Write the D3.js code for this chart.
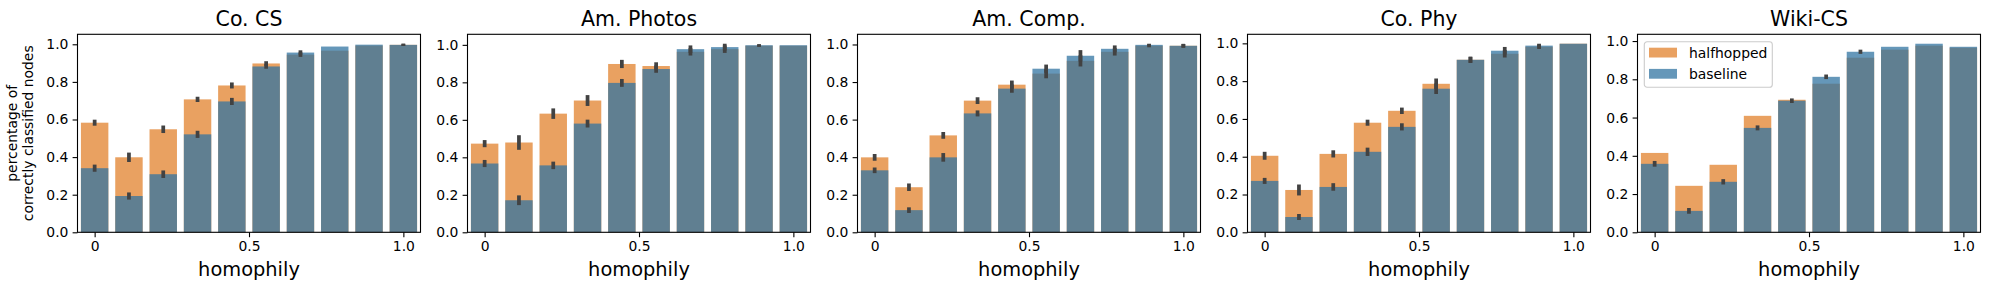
<!DOCTYPE html>
<html lang="en">
<head>
<meta charset="UTF-8">
<script src="https://cdn.jsdelivr.net/npm/d3@7"></script>
<title>homophily</title>
<style>
    body { margin: 0; background: #fff; }
    text { font-family: "DejaVu Sans", sans-serif; fill: #000; }
    .domain { stroke: #000; stroke-width: 1.1px; }
    .tick line { stroke: #000; stroke-width: 1.1px; }
</style>
</head>
<body>
<script>
    // homophily bins (10 bars per panel)
    const bins = [0, 0.111, 0.222, 0.333, 0.444, 0.556, 0.667, 0.778, 0.889, 1.0]
    const xTickValues = [0, 0.5, 1.0]
    const xTickLabels = ["0", "0.5", "1.0"]
    const yTicks = [0, 0.2, 0.4, 0.6, 0.8, 1.0]

    const datasets = ["Co. CS", "Am. Photos", "Am. Comp.", "Co. Phy", "Wiki-CS"]
    const seriesNames = ["halfhopped", "baseline"]

    const coCSHalf     = [0.583, 0.399, 0.548, 0.707, 0.781, 0.898, 0.945, 0.966, 0.993, 0.997]
    const coCSBase     = [0.341, 0.193, 0.309, 0.521, 0.696, 0.882, 0.956, 0.988, 0.998, 0.997]
    const coCSHalfErr  = [0.016, 0.025, 0.020, 0.014, 0.016, 0.012, 0.012, 0, 0, 0.006]
    const coCSBaseErr  = [0.019, 0.019, 0.020, 0.019, 0.019, 0.012, 0.012, 0, 0, 0.006]

    const amPhotosHalf    = [0.473, 0.479, 0.633, 0.703, 0.898, 0.887, 0.963, 0.977, 0.995, 0.995]
    const amPhotosBase    = [0.367, 0.171, 0.357, 0.580, 0.797, 0.871, 0.977, 0.988, 0.998, 0.998]
    const amPhotosHalfErr = [0.019, 0.039, 0.028, 0.029, 0.022, 0.020, 0.020, 0.020, 0.006, 0]
    const amPhotosBaseErr = [0.019, 0.026, 0.020, 0.021, 0.021, 0.020, 0.020, 0.018, 0.006, 0]

    const amCompHalf    = [0.399, 0.240, 0.516, 0.701, 0.786, 0.845, 0.913, 0.961, 0.993, 0.993]
    const amCompBase    = [0.330, 0.118, 0.399, 0.633, 0.765, 0.871, 0.940, 0.977, 0.998, 0.993]
    const amCompHalfErr = [0.018, 0.020, 0.018, 0.018, 0.022, 0.025, 0.030, 0.020, 0.008, 0.010]
    const amCompBaseErr = [0.015, 0.015, 0.023, 0.016, 0.022, 0.022, 0.030, 0.018, 0.006, 0.010]

    const coPhyHalf    = [0.405, 0.224, 0.415, 0.580, 0.643, 0.786, 0.913, 0.945, 0.982, 0.998]
    const coPhyBase    = [0.272, 0.081, 0.240, 0.426, 0.558, 0.760, 0.913, 0.961, 0.988, 0.998]
    const coPhyHalfErr = [0.021, 0.029, 0.019, 0.016, 0.017, 0.028, 0.016, 0.020, 0.012, 0]
    const coPhyBaseErr = [0.016, 0.016, 0.020, 0.022, 0.019, 0.028, 0.016, 0.020, 0.010, 0]

    const wikiHalf    = [0.415, 0.243, 0.353, 0.609, 0.693, 0.777, 0.913, 0.955, 0.976, 0.965]
    const wikiBase    = [0.358, 0.112, 0.264, 0.546, 0.688, 0.813, 0.944, 0.970, 0.986, 0.970]
    const wikiHalfErr = [0, 0, 0, 0, 0, 0, 0, 0, 0, 0]
    const wikiBaseErr = [0.015, 0.015, 0.014, 0.013, 0.012, 0.012, 0.011, 0, 0, 0]

    const halfVals = [coCSHalf, amPhotosHalf, amCompHalf, coPhyHalf, wikiHalf]
    const baseVals = [coCSBase, amPhotosBase, amCompBase, coPhyBase, wikiBase]
    const halfErrs = [coCSHalfErr, amPhotosHalfErr, amCompHalfErr, coPhyHalfErr, wikiHalfErr]
    const baseErrs = [coCSBaseErr, amPhotosBaseErr, amCompBaseErr, coPhyBaseErr, wikiBaseErr]

    const colors = {halfhopped: "#e1812c", baseline: "#3274a1"}
    const barAlpha = 0.75
    const errColor = "#424242"

    const width = 1990, height = 290
    const axLeft = 77.5, axStep = 390, axW = 343
    const axTop = 34.3, axH = 198

    const svg = d3.select("body").append("svg")
        .attr("width", width)
        .attr("height", height)

    datasets.forEach((name, p) => {
        const g = svg.append("g")
            .attr("transform", `translate(${axLeft + p * axStep},${axTop})`)

        const rows = bins.map((b, i) => ({
            bin: b,
            half: halfVals[p][i], halfErr: halfErrs[p][i],
            base: baseVals[p][i], baseErr: baseErrs[p][i]
        }))

        // matplotlib style autoscale: 5% margin above the highest bar / errbar
        const yMax = d3.max(rows, d => Math.max(d.half + d.halfErr, d.base + d.baseErr)) * 1.05

        const x = d3.scaleBand()
            .domain(bins)
            .range([0, axW])
            .paddingInner(0.2)
            .paddingOuter(0.1)
        const half = (bins[1] - bins[0]) / 2
        const xLin = d3.scaleLinear()
            .domain([bins[0] - half, bins[bins.length - 1] + half])
            .range([0, axW])
        const y = d3.scaleLinear().domain([0, yMax]).range([axH, 0])

        // bars: halfhopped first, baseline drawn over it
        g.append("g").selectAll("rect")
            .data(rows)
            .join("rect")
            .attr("x", d => x(d.bin))
            .attr("width", x.bandwidth())
            .attr("y", d => y(d.half))
            .attr("height", d => y(0) - y(d.half))
            .attr("fill", colors.halfhopped)
            .attr("fill-opacity", barAlpha)

        g.append("g").selectAll("rect")
            .data(rows)
            .join("rect")
            .attr("x", d => x(d.bin))
            .attr("width", x.bandwidth())
            .attr("y", d => y(d.base))
            .attr("height", d => y(0) - y(d.base))
            .attr("fill", colors.baseline)
            .attr("fill-opacity", barAlpha)

        // error bars
        const errs = []
        rows.forEach(d => {
            if (d.halfErr > 0) errs.push({bin: d.bin, v: d.half, e: d.halfErr})
            if (d.baseErr > 0) errs.push({bin: d.bin, v: d.base, e: d.baseErr})
        })
        g.append("g").selectAll("line")
            .data(errs)
            .join("line")
            .attr("x1", d => x(d.bin) + x.bandwidth() / 2)
            .attr("x2", d => x(d.bin) + x.bandwidth() / 2)
            .attr("y1", d => y(d.v - d.e))
            .attr("y2", d => y(d.v + d.e))
            .attr("stroke", errColor)
            .attr("stroke-width", 3.75)

        // axes
        const xAxis = d3.axisBottom(xLin)
            .tickValues(xTickValues)
            .tickFormat((d, i) => xTickLabels[i])
            .tickSizeInner(4.9)
            .tickSizeOuter(0)
            .tickPadding(4.2)
        const yAxis = d3.axisLeft(y)
            .tickValues(yTicks)
            .tickFormat(d3.format(".1f"))
            .tickSizeInner(4.9)
            .tickSizeOuter(0)
            .tickPadding(4.2)

        g.append("g").attr("transform", `translate(0,${axH})`).call(xAxis)
            .call(a => a.select(".domain").remove())
        g.append("g").call(yAxis)
            .call(a => a.select(".domain").remove())
        g.selectAll(".tick text").attr("font-size", "13.9px").attr("font-family", "DejaVu Sans")

        // frame
        g.append("rect")
            .attr("width", axW)
            .attr("height", axH)
            .attr("fill", "none")
            .attr("stroke", "#000")
            .attr("stroke-width", 1.1)

        g.append("text")
            .attr("x", axW / 2)
            .attr("y", -8.3)
            .attr("text-anchor", "middle")
            .attr("font-size", "20.5px")
            .text(name)

        g.append("text")
            .attr("x", axW / 2)
            .attr("y", 276 - axTop)
            .attr("text-anchor", "middle")
            .attr("font-size", "19.4px")
            .text("homophily")

        if (p === 0) {
            const yl = g.append("text")
                .attr("transform", `translate(${-60},${axH / 2}) rotate(-90)`)
                .attr("text-anchor", "middle")
                .attr("font-size", "13.9px")
            yl.append("tspan").attr("x", 0).attr("y", -0.3).text("percentage of")
            yl.append("tspan").attr("x", 0).attr("y", 15.3).text("correctly classified nodes")
        }

        if (p === datasets.length - 1) {
            const lg = g.append("g").attr("transform", "translate(6.8,7.4)")
            lg.append("rect")
                .attr("width", 128)
                .attr("height", 45.6)
                .attr("rx", 2.8)
                .attr("fill", "#fff")
                .attr("fill-opacity", 0.8)
                .attr("stroke", "#cccccc")
                .attr("stroke-width", 1.1)
            seriesNames.forEach((s, i) => {
                lg.append("rect")
                    .attr("x", 4.7)
                    .attr("y", 6 + i * 21.2)
                    .attr("width", 28)
                    .attr("height", 9.8)
                    .attr("fill", colors[s])
                    .attr("fill-opacity", barAlpha)
                lg.append("text")
                    .attr("x", 44.7)
                    .attr("y", 10.9 + i * 21.2)
                    .attr("dominant-baseline", "central")
                    .attr("font-size", "13.9px")
                    .text(s)
            })
        }
    })
</script>
</body>
</html>
